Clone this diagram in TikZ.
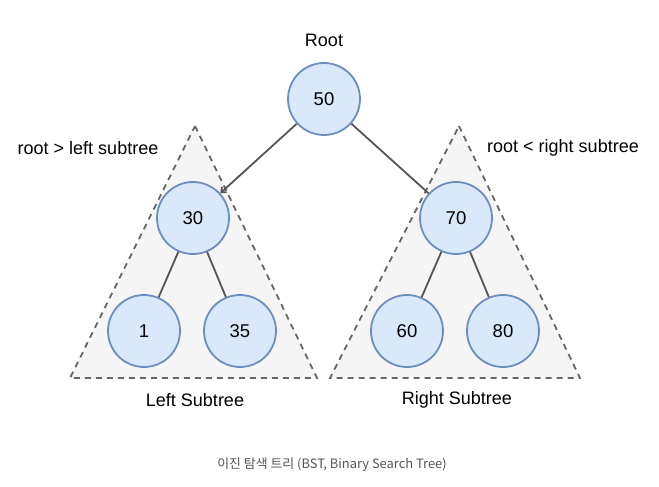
\documentclass[tikz,border=0pt]{standalone}
\usepackage{fontspec}
\setmainfont{Liberation Sans}
\newfontfamily\krfont{Noto Sans CJK KR}
\usetikzlibrary{arrows.meta}
\definecolor{nodefill}{HTML}{DAE8FC}
\definecolor{nodeline}{HTML}{6C8EBF}
\definecolor{trifill}{HTML}{F5F5F5}
\definecolor{triline}{HTML}{666666}
\definecolor{edgecol}{HTML}{555555}
\definecolor{captcol}{HTML}{555555}
\begin{document}
\begin{tikzpicture}[x=1pt,y=-1pt,
  bstnode/.style={circle,draw=nodeline,fill=nodefill,line width=1.8pt,minimum size=72pt,inner sep=0pt,font=\fontsize{18.5}{20}\selectfont},
  subtri/.style={draw=triline,fill=trifill,line width=1.8pt,dash pattern=on 6pt off 5pt},
  edge/.style={draw=edgecol,line width=1.8pt},
  lbl/.style={font=\fontsize{18}{20}\selectfont,inner sep=0pt}]
\useasboundingbox (0,0) rectangle (659,487);
% subtree triangles
\draw[subtri] (195,126) -- (317,378) -- (70,378) -- cycle;
\draw[subtri] (459,126) -- (580,378) -- (330,378) -- cycle;
% nodes
\node[bstnode] (n50) at (324,99) {50};
\node[bstnode] (n30) at (193,218) {30};
\node[bstnode] (n70) at (456,218) {70};
\node[bstnode] (n1) at (144,331) {1};
\node[bstnode] (n35) at (240,331) {35};
\node[bstnode] (n60) at (407,331) {60};
\node[bstnode] (n80) at (503,331) {80};
% edges
\draw[edge,-{Straight Barb[length=4pt,width=7pt]}] (n50) -- (n30);
\draw[edge] (n50) -- (n70);
\draw[edge] (n30) -- (n1);
\draw[edge] (n30) -- (n35);
\draw[edge] (n70) -- (n60);
\draw[edge] (n70) -- (n80);
% labels
\node[lbl] (troot) at (324,40) {Root};
\node[lbl] (tleftrule) at (88,148) {root > left subtree};
\node[lbl] (trightrule) at (563,148) {root < right subtree};
\node[lbl] (tleft) at (195,400) {Left Subtree};
\node[lbl] (tright) at (457,400) {Right Subtree};
\node[inner sep=0pt,text=captcol,font=\krfont\fontsize{12.9}{15}\selectfont] (caption) at (332,465) {이진 탐색 트리 (BST, Binary Search Tree)};
\end{tikzpicture}
\end{document}
